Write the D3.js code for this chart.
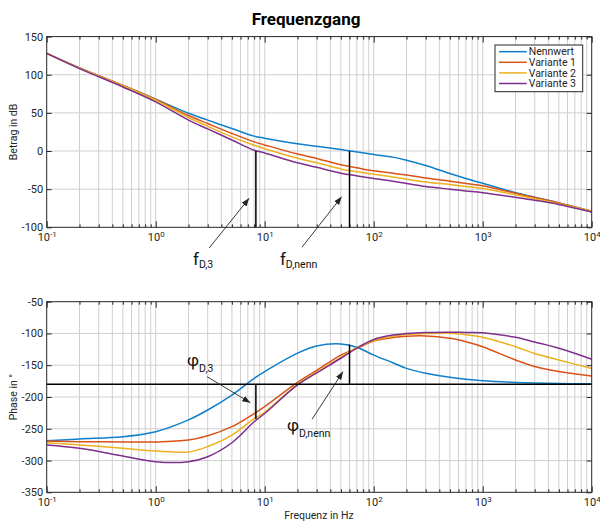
<!DOCTYPE html>
<html>
<head>
<meta charset="utf-8">
<script src="https://cdn.jsdelivr.net/npm/d3@7"></script>
<style>
  body { margin: 0; background: #fff; }
  svg { display: block; font-family: Roboto, "Noto Sans", sans-serif; }
</style>
</head>
<body>
<svg id="chart" width="600" height="521"></svg>
<script>
// frequencies in Hz, shared by all curves
const freq = [0.1, 0.2, 0.5, 1, 2, 3, 5, 8, 10, 20, 30, 50, 70, 100, 150, 200, 300, 500, 700, 1000, 2000, 3000, 5000, 10000]

// magnitude in dB
const magNenn = [128, 109, 86, 68, 49.5, 40.5, 29.5, 19.5, 16.8, 9.5, 6.2, 2, -1.2, -4.5, -8, -12, -19, -29.5, -36, -42.3, -54.6, -60.5, -68, -79]
const magV1   = [128, 109, 86, 67.5, 46.5, 36, 23, 12, 8, -4, -9.7, -18, -22, -26, -29, -31.5, -35.5, -39.5, -42.5, -45.5, -55.5, -61, -68, -79]
const magV2   = [128, 108.5, 85.5, 66.5, 44, 32.5, 18.5, 7.5, 3, -9.5, -15.4, -23.5, -27, -30.5, -34, -37, -40.5, -44, -46.5, -49, -57.5, -62.5, -69, -79]
const magV3   = [128, 108, 84, 64.5, 40.5, 29, 14.5, 1, -2.5, -15.5, -21.4, -29, -32.5, -36, -39.5, -42.5, -46.5, -50, -52.3, -54.6, -60.7, -64.5, -70, -80]

// phase in degrees
const phNenn = [-269, -266, -262.5, -254.6, -236, -220.5, -197, -170.6, -160, -131, -119.7, -116.6, -121.8, -134, -146, -155, -162.5, -169, -172, -174.3, -177, -178, -178.7, -179.3]
const phV1   = [-269.3, -270.3, -270.8, -270.8, -267.7, -261, -246.7, -226, -215, -177, -158, -134, -123.5, -112, -106.5, -104.3, -103.8, -107.6, -113, -120.8, -141.8, -152, -160, -167]
const phV2   = [-272, -275.5, -280.8, -285, -286.6, -278, -260, -234, -224, -180, -161, -137.5, -122.5, -111, -104.5, -101.8, -100.2, -99.8, -102, -106, -120.8, -131.5, -141.8, -155]
const phV3   = [-275.5, -280.8, -292.9, -301.8, -301.8, -294, -272, -239, -226, -181, -162, -139, -123, -109.5, -102.5, -100.2, -98.6, -98.2, -98.3, -98.8, -106, -113.5, -123.4, -140.5]

const seriesNames = ['Nennwert', 'Variante 1', 'Variante 2', 'Variante 3']
const seriesColors = ['#0f7fcb', '#d95319', '#edb120', '#7e2f8e']

const magTicks = [-100, -50, 0, 50, 100, 150]
const phTicks = [-350, -300, -250, -200, -150, -100, -50]

// crossover points
const fD3 = 8.3, fDnenn = 60
const phiD3 = -235, phiDnenn = -117.5

// annotations: [freq, value] for label, arrow tail, arrow head
const notesMag = [
  {sym: 'f', sub: 'D,3', text: [2.2, -149], tail: [3.1, -127], head: [7.2, -62]},
  {sym: 'f', sub: 'D,nenn', text: [13.8, -149], tail: [22, -126], head: [50.8, -60]}
]
const notesPh = [
  {sym: 'φ', sub: 'D,3', text: [1.94, -151], tail: [2.96, -168], head: [7.38, -209]},
  {sym: 'φ', sub: 'D,nenn', text: [16, -253.5], tail: [27.2, -235], head: [52.3, -160]}
]

const svg = d3.select('#chart')
const gridColor = '#d0d0d0'
const axisColor = '#262626'

const x = d3.scaleLog().domain([0.1, 1e4]).range([46.7, 591.7])
const yMag = d3.scaleLinear().domain([-100, 150]).range([227.3, 36.6])
const yPh = d3.scaleLinear().domain([-350, -50]).range([492.3, 301.7])

const isMajor = d => Math.abs(Math.log10(d) - Math.round(Math.log10(d))) < 1e-9
const xMajor = x.ticks().filter(isMajor)
const xMinor = x.ticks().filter(d => !isMajor(d))

svg.append('defs').append('marker')
    .attr('id', 'arrow')
    .attr('markerUnits', 'userSpaceOnUse')
    .attr('markerWidth', 9).attr('markerHeight', 7)
    .attr('refX', 8).attr('refY', 3)
    .attr('orient', 'auto')
  .append('path')
    .attr('d', 'M0,0 L8,3 L0,6 Z')
    .attr('fill', '#222')

function panel(id, y, yTicks, values, yLabel) {
  const g = svg.append('g')
  const [yb, yt] = y.range()
  const [xl, xr] = x.range()

  svg.select('defs').append('clipPath').attr('id', 'clip' + id)
    .append('rect').attr('x', xl).attr('y', yt).attr('width', xr - xl).attr('height', yb - yt)

  // grid
  g.append('g').selectAll('line')
    .data(x.ticks().filter(d => d > 0.1 && d < 1e4))
    .join('line')
      .attr('x1', d => x(d)).attr('x2', d => x(d))
      .attr('y1', yb).attr('y2', yt)
      .attr('stroke', gridColor)
  g.append('g').selectAll('line')
    .data(yTicks.slice(1, -1))
    .join('line')
      .attr('x1', xl).attr('x2', xr)
      .attr('y1', d => y(d)).attr('y2', d => y(d))
      .attr('stroke', gridColor)

  // curves
  const line = d3.line()
    .x((d, i) => x(freq[i]))
    .y(d => y(d))
    .curve(d3.curveCatmullRom.alpha(0.5))
  g.append('g').attr('clip-path', `url(#clip${id})`)
    .selectAll('path')
    .data(values)
    .join('path')
      .attr('d', line)
      .attr('fill', 'none')
      .attr('stroke', (d, i) => seriesColors[i])
      .attr('stroke-width', 1.5)

  // axes, ticks inside
  const bottom = g.append('g').attr('transform', `translate(0,${yb})`)
  bottom.append('g')
    .call(d3.axisBottom(x).tickValues(xMinor).tickSizeInner(-3).tickSizeOuter(0).tickFormat(''))
  const bottomMajor = bottom.append('g')
    .call(d3.axisBottom(x).tickValues(xMajor).tickSizeInner(-6).tickSizeOuter(0).tickPadding(6))
  const top = g.append('g').attr('transform', `translate(0,${yt})`)
  top.append('g')
    .call(d3.axisTop(x).tickValues(xMinor).tickSizeInner(-3).tickSizeOuter(0).tickFormat(''))
  top.append('g')
    .call(d3.axisTop(x).tickValues(xMajor).tickSizeInner(-6).tickSizeOuter(0).tickFormat(''))

  g.append('g').attr('transform', `translate(${xl},0)`)
    .call(d3.axisLeft(y).tickValues(yTicks).tickSizeInner(-5).tickSizeOuter(0).tickPadding(3.5).tickFormat(d => String(d)))
  g.append('g').attr('transform', `translate(${xr},0)`)
    .call(d3.axisRight(y).tickValues(yTicks).tickSizeInner(-5).tickSizeOuter(0).tickFormat(''))

  g.selectAll('.domain').remove()
  g.selectAll('.tick line').attr('stroke', axisColor)
  g.selectAll('.tick text').attr('fill', axisColor).attr('font-size', 11).attr('font-family', 'Roboto, sans-serif')

  // 10^n labels
  bottomMajor.selectAll('.tick text').each(function(d) {
    const t = d3.select(this).text(null)
    t.append('tspan').text('10')
    t.append('tspan').text(String(Math.round(Math.log10(d))))
      .attr('font-size', 8).attr('dy', '-0.55em')
  })

  g.append('rect')
    .attr('x', xl).attr('y', yt).attr('width', xr - xl).attr('height', yb - yt)
    .attr('fill', 'none').attr('stroke', axisColor).attr('stroke-width', 1)

  g.append('text')
    .attr('transform', `translate(16.5,${(yb + yt) / 2}) rotate(-90)`)
    .attr('text-anchor', 'middle')
    .attr('font-size', 10.5)
    .attr('fill', axisColor)
    .text(yLabel)

  return g
}

function note(g, y, n, subDy) {
  g.append('line')
    .attr('x1', x(n.tail[0])).attr('y1', y(n.tail[1]))
    .attr('x2', x(n.head[0])).attr('y2', y(n.head[1]))
    .attr('stroke', '#222').attr('stroke-width', 0.9)
    .attr('marker-end', 'url(#arrow)')
  const t = g.append('text')
    .attr('x', x(n.text[0])).attr('y', y(n.text[1]))
    .attr('font-size', 17).attr('fill', '#111')
  t.append('tspan').text(n.sym)
  t.append('tspan').text(n.sub).attr('font-size', 10.5).attr('dy', subDy)
}

// Betrag
const gMag = panel('mag', yMag, magTicks, [magNenn, magV1, magV2, magV3], 'Betrag in dB')
gMag.selectAll('line.mark')
  .data([fD3, fDnenn])
  .join('line').attr('class', 'mark')
    .attr('x1', d => x(d)).attr('x2', d => x(d))
    .attr('y1', yMag(0)).attr('y2', yMag(-100))
    .attr('stroke', '#000').attr('stroke-width', 1.5)
notesMag.forEach(n => note(svg, yMag, n, 3.5))

// Phase
const gPh = panel('ph', yPh, phTicks, [phNenn, phV1, phV2, phV3], 'Phase in °')
gPh.append('line')
  .attr('x1', x.range()[0]).attr('x2', x.range()[1])
  .attr('y1', yPh(-180)).attr('y2', yPh(-180))
  .attr('stroke', '#000').attr('stroke-width', 1.4)
gPh.selectAll('line.mark')
  .data([[fD3, phiD3], [fDnenn, phiDnenn]])
  .join('line').attr('class', 'mark')
    .attr('x1', d => x(d[0])).attr('x2', d => x(d[0]))
    .attr('y1', yPh(-180)).attr('y2', d => yPh(d[1]))
    .attr('stroke', '#000').attr('stroke-width', 1.5)
notesPh.forEach(n => note(svg, yPh, n, 6))

svg.append('text')
  .attr('x', 319).attr('y', 519)
  .attr('text-anchor', 'middle')
  .attr('font-size', 10.5)
  .attr('fill', axisColor)
  .text('Frequenz in Hz')

// title
svg.append('text')
  .attr('x', 306).attr('y', 25)
  .attr('text-anchor', 'middle')
  .attr('font-size', 17).attr('font-weight', 'bold')
  .attr('fill', '#000')
  .text('Frequenzgang')

// legend
const leg = svg.append('g').attr('transform', 'translate(495,45)')
leg.append('rect')
  .attr('width', 87.7).attr('height', 46.7)
  .attr('fill', '#fff').attr('stroke', axisColor).attr('stroke-width', 1)
const rows = leg.selectAll('g.row').data(seriesNames).join('g')
  .attr('class', 'row')
  .attr('transform', (d, i) => `translate(0,${6.7 + i * 10.6})`)
rows.append('line')
  .attr('x1', 4).attr('x2', 31.7)
  .attr('stroke', (d, i) => seriesColors[i]).attr('stroke-width', 1.5)
rows.append('text')
  .attr('x', 33.7).attr('dy', '0.35em')
  .attr('font-size', 10.5).attr('fill', axisColor)
  .text(d => d)
</script>
</body>
</html>
